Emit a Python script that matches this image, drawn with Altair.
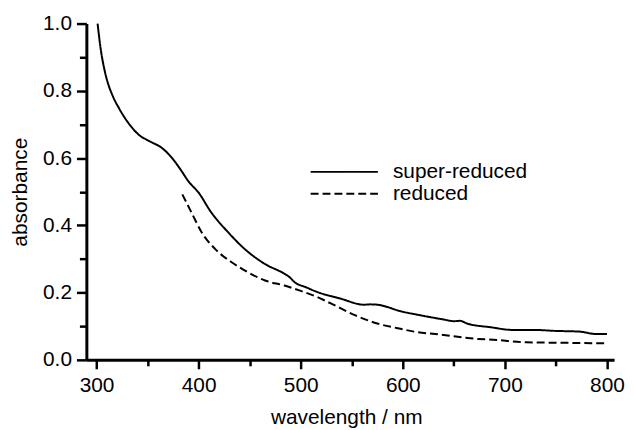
import altair as alt
import pandas as pd

super_wl = [301, 304, 307.5, 310.7, 315.5, 322, 331, 341.5, 352, 364, 374, 382, 390, 400, 412,
            429, 445, 465, 484, 489, 494, 505, 516, 539, 562, 568, 575, 584, 594, 620, 640,
            650, 656, 663, 686, 708, 728, 750, 773, 789, 800]
super_abs = [1.0, 0.925, 0.866, 0.827, 0.787, 0.748, 0.705, 0.669, 0.65, 0.630, 0.600, 0.567,
             0.531, 0.497, 0.44, 0.379, 0.330, 0.285, 0.256, 0.246, 0.231, 0.216, 0.202, 0.182,
             0.164, 0.165, 0.164, 0.158, 0.148, 0.131, 0.120, 0.115, 0.116, 0.108, 0.097, 0.089,
             0.089, 0.086, 0.084, 0.077, 0.077]

reduced_wl = [384, 393, 403, 416, 432, 448, 465, 484, 500, 516, 530, 553, 575, 595, 611, 640,
              666, 692, 721, 750, 800]
reduced_abs = [0.492, 0.438, 0.379, 0.330, 0.291, 0.261, 0.236, 0.221, 0.205, 0.187, 0.167,
               0.133, 0.108, 0.094, 0.084, 0.074, 0.064, 0.059, 0.052, 0.051, 0.049]

series_names = ["super-reduced", "reduced"]
x_ticks = [300, 350, 400, 450, 500, 550, 600, 650, 700, 750, 800]
y_ticks = [0.0, 0.1, 0.2, 0.3, 0.4, 0.5, 0.6, 0.7, 0.8, 0.9, 1.0]

df = pd.concat([
    pd.DataFrame({"wl": super_wl, "abs": super_abs, "series": series_names[0], "order": range(len(super_wl))}),
    pd.DataFrame({"wl": reduced_wl, "abs": reduced_abs, "series": series_names[1], "order": range(len(reduced_wl))}),
])

FONT = "Liberation Sans"

x_axis = alt.Axis(
    values=x_ticks,
    labelExpr="datum.value % 100 === 0 ? datum.label : ''",
    tickSize={"condition": {"test": "datum.value % 100 === 0", "value": 9}, "value": 6},
    tickWidth=2.5,
    domainWidth=3,
    domainColor="black",
    tickColor="black",
    grid=False,
    labelFont=FONT, labelFontSize=21, labelColor="black", labelPadding=6,
    title="wavelength / nm", titleFont=FONT, titleFontSize=21, titleFontWeight="normal",
    titleColor="black", titlePadding=11, titleX=262,
)
y_axis = alt.Axis(
    values=y_ticks,
    format=".1f",
    labelExpr="round(datum.value * 10) % 2 === 0 ? datum.label : ''",
    tickSize={"condition": {"test": "round(datum.value * 10) % 2 === 0", "value": 10}, "value": 7},
    tickWidth=2.5,
    domainWidth=3,
    domainColor="black",
    tickColor="black",
    grid=False,
    labelFont=FONT, labelFontSize=21, labelColor="black", labelPadding=5,
    title="absorbance", titleFont=FONT, titleFontSize=21, titleFontWeight="normal",
    titleColor="black", titlePadding=12,
)

chart = alt.Chart(df).mark_line(color="black", strokeWidth=2, interpolate="monotone").encode(
    x=alt.X("wl:Q", scale=alt.Scale(domain=[290, 807], nice=False, zero=False), axis=x_axis),
    y=alt.Y("abs:Q", scale=alt.Scale(domain=[0, 1], nice=False), axis=y_axis),
    strokeDash=alt.StrokeDash(
        "series:N",
        scale=alt.Scale(domain=series_names, range=[[1, 0], [8, 4]]),
        legend=alt.Legend(
            title=None, orient="none", legendX=225, legendY=139,
            symbolType="stroke", symbolSize=4600, symbolStrokeWidth=2,
            symbolStrokeColor="black", clipHeight=21,
            labelFont=FONT, labelFontSize=21, labelColor="black", labelOffset=14,
            rowPadding=0, padding=0,
        ),
    ),
    order="order:Q",
).properties(
    width=532, height=339,
    autosize=alt.AutoSizeParams(type="none"),
    padding={"left": 79, "top": 14, "right": 12, "bottom": 67},
).configure_view(stroke=None)

chart.save("out.html", embed_options={"renderer": "svg", "actions": False})
